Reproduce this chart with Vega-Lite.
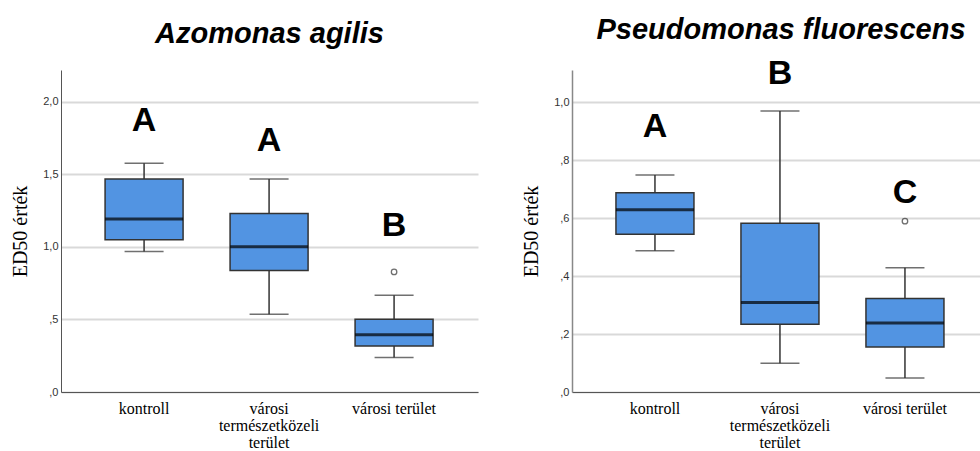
{
  "$schema": "https://vega.github.io/schema/vega-lite/v6.json",
  "background": "white",
  "padding": {"left": 10, "top": 15, "right": 0, "bottom": 0},
  "bounds": "flush",
  "spacing": 94,
  "config": {
    "view": {"stroke": null},
    "axis": {"labelFont": "Liberation Sans"},
    "title": {"font": "Liberation Sans", "fontWeight": "bold", "fontStyle": "italic", "color": "black", "anchor": "middle"}
  },
  "datasets": {
    "boxes": [
      {"panel": "A", "group": "kontroll", "lower": 0.968, "q1": 1.05, "median": 1.193, "q3": 1.469, "upper": 1.577},
      {"panel": "A", "group": "városi természetközeli terület", "lower": 0.536, "q1": 0.837, "median": 1.002, "q3": 1.23, "upper": 1.469},
      {"panel": "A", "group": "városi terület", "lower": 0.237, "q1": 0.317, "median": 0.395, "q3": 0.501, "upper": 0.667},
      {"panel": "P", "group": "kontroll", "lower": 0.488, "q1": 0.545, "median": 0.629, "q3": 0.688, "upper": 0.749},
      {"panel": "P", "group": "városi természetközeli terület", "lower": 0.099, "q1": 0.234, "median": 0.309, "q3": 0.583, "upper": 0.97},
      {"panel": "P", "group": "városi terület", "lower": 0.048, "q1": 0.155, "median": 0.238, "q3": 0.323, "upper": 0.429}
    ],
    "outliers": [
      {"panel": "A", "group": "városi terület", "value": 0.828},
      {"panel": "P", "group": "városi terület", "value": 0.59}
    ],
    "letters": [
      {"panel": "A", "group": "kontroll", "letter": "A", "pos": 1.80},
      {"panel": "A", "group": "városi természetközeli terület", "letter": "A", "pos": 1.664},
      {"panel": "A", "group": "városi terület", "letter": "B", "pos": 1.076},
      {"panel": "P", "group": "kontroll", "letter": "A", "pos": 0.881},
      {"panel": "P", "group": "városi természetközeli terület", "letter": "B", "pos": 1.065},
      {"panel": "P", "group": "városi terület", "letter": "C", "pos": 0.652}
    ]
  },
  "hconcat": [
    {
      "width": 417,
      "height": 322,
      "title": {"text": "Azomonas agilis", "fontSize": 29, "baseline": "alphabetic", "offset": -2},
      "encoding": {
        "x": {
          "field": "group", "type": "nominal", "sort": ["kontroll", "városi természetközeli terület", "városi terület"],
          "scale": {"paddingInner": 0, "paddingOuter": 0.168, "align": 0.49},
          "axis": {"title": null, "labelAngle": 0, "ticks": false, "domainColor": "#555555", "domainWidth": 1, "labelFont": "Liberation Serif", "labelFontSize": 16, "labelColor": "black", "labelPadding": 8, "labelLineHeight": 17, "labelBaseline": "top",
            "labelExpr": "datum.label == 'városi természetközeli terület' ? ['városi', 'természetközeli', 'terület'] : datum.label"}
        }
      },
      "layer": [
        {
          "data": {"name": "boxes"},
          "transform": [{"filter": "datum.panel == 'A'"}],
          "mark": {"type": "rule", "color": "#333333", "strokeWidth": 1.5},
          "encoding": {
            "y": {"field": "lower", "type": "quantitative", "scale": {"domain": [0, 2.22], "nice": false},
              "axis": {"title": "ED50  érték", "titleFont": "Liberation Serif", "titleFontSize": 20, "titleFontWeight": "normal", "titleColor": "black", "titlePadding": 12,
                "values": [0, 0.5, 1, 1.5, 2], "ticks": false, "labelPadding": 3, "labelFontSize": 11, "labelColor": "#333333",
                "labelExpr": "replace(replace(format(datum.value, '.1f'), '.', ','), '0,', ',')",
                "grid": true, "gridColor": "#d9d9d9", "gridWidth": 2, "domainColor": "#555555", "domainWidth": 1}},
            "y2": {"field": "upper"}
          }
        },
        {
          "data": {"name": "boxes"},
          "transform": [{"filter": "datum.panel == 'A'"}],
          "mark": {"type": "tick", "color": "#333333", "thickness": 1.5, "size": 39},
          "encoding": {"y": {"field": "upper", "type": "quantitative"}}
        },
        {
          "data": {"name": "boxes"},
          "transform": [{"filter": "datum.panel == 'A'"}],
          "mark": {"type": "tick", "color": "#333333", "thickness": 1.5, "size": 39},
          "encoding": {"y": {"field": "lower", "type": "quantitative"}}
        },
        {
          "data": {"name": "boxes"},
          "transform": [{"filter": "datum.panel == 'A'"}],
          "mark": {"type": "bar", "fill": "#5294e2", "stroke": "#333333", "strokeWidth": 1.5, "size": 78},
          "encoding": {"y": {"field": "q1", "type": "quantitative"}, "y2": {"field": "q3"}}
        },
        {
          "data": {"name": "boxes"},
          "transform": [{"filter": "datum.panel == 'A'"}],
          "mark": {"type": "tick", "color": "black", "thickness": 3, "size": 78},
          "encoding": {"y": {"field": "median", "type": "quantitative"}}
        },
        {
          "data": {"name": "outliers"},
          "transform": [{"filter": "datum.panel == 'A'"}],
          "mark": {"type": "point", "shape": "circle", "filled": false, "stroke": "#333333", "strokeWidth": 1.3, "size": 30},
          "encoding": {"y": {"field": "value", "type": "quantitative"}}
        },
        {
          "data": {"name": "letters"},
          "transform": [{"filter": "datum.panel == 'A'"}],
          "mark": {"type": "text", "font": "Liberation Sans", "fontWeight": "bold", "fontSize": 34, "baseline": "alphabetic", "color": "black"},
          "encoding": {"y": {"field": "pos", "type": "quantitative"}, "text": {"field": "letter"}}
        }
      ]
    },
    {
      "width": 408,
      "height": 322,
      "title": {"text": "Pseudomonas fluorescens", "fontSize": 29, "baseline": "alphabetic", "offset": -11, "dx": 5},
      "encoding": {
        "x": {
          "field": "group", "type": "nominal", "sort": ["kontroll", "városi természetközeli terület", "városi terület"],
          "scale": {"paddingInner": 0, "paddingOuter": 0.132, "align": 0.62},
          "axis": {"title": null, "labelAngle": 0, "ticks": false, "domainColor": "#555555", "domainWidth": 1, "labelFont": "Liberation Serif", "labelFontSize": 16, "labelColor": "black", "labelPadding": 8, "labelLineHeight": 17, "labelBaseline": "top",
            "labelExpr": "datum.label == 'városi természetközeli terület' ? ['városi', 'természetközeli', 'terület'] : datum.label"}
        }
      },
      "layer": [
        {
          "data": {"name": "boxes"},
          "transform": [{"filter": "datum.panel == 'P'"}],
          "mark": {"type": "rule", "color": "#333333", "strokeWidth": 1.5},
          "encoding": {
            "y": {"field": "lower", "type": "quantitative", "scale": {"domain": [0, 1.112], "nice": false},
              "axis": {"title": "ED50  érték", "titleFont": "Liberation Serif", "titleFontSize": 20, "titleFontWeight": "normal", "titleColor": "black", "titlePadding": 12,
                "values": [0, 0.2, 0.4, 0.6, 0.8, 1], "ticks": false, "labelPadding": 3, "labelFontSize": 11, "labelColor": "#333333",
                "labelExpr": "replace(replace(format(datum.value, '.1f'), '.', ','), '0,', ',')",
                "grid": true, "gridColor": "#d9d9d9", "gridWidth": 2, "domainColor": "#888888", "domainWidth": 1.5}},
            "y2": {"field": "upper"}
          }
        },
        {
          "data": {"name": "boxes"},
          "transform": [{"filter": "datum.panel == 'P'"}],
          "mark": {"type": "tick", "color": "#333333", "thickness": 1.5, "size": 39},
          "encoding": {"y": {"field": "upper", "type": "quantitative"}}
        },
        {
          "data": {"name": "boxes"},
          "transform": [{"filter": "datum.panel == 'P'"}],
          "mark": {"type": "tick", "color": "#333333", "thickness": 1.5, "size": 39},
          "encoding": {"y": {"field": "lower", "type": "quantitative"}}
        },
        {
          "data": {"name": "boxes"},
          "transform": [{"filter": "datum.panel == 'P'"}],
          "mark": {"type": "bar", "fill": "#5294e2", "stroke": "#333333", "strokeWidth": 1.5, "size": 78},
          "encoding": {"y": {"field": "q1", "type": "quantitative"}, "y2": {"field": "q3"}}
        },
        {
          "data": {"name": "boxes"},
          "transform": [{"filter": "datum.panel == 'P'"}],
          "mark": {"type": "tick", "color": "black", "thickness": 3, "size": 78},
          "encoding": {"y": {"field": "median", "type": "quantitative"}}
        },
        {
          "data": {"name": "outliers"},
          "transform": [{"filter": "datum.panel == 'P'"}],
          "mark": {"type": "point", "shape": "circle", "filled": false, "stroke": "#333333", "strokeWidth": 1.3, "size": 30},
          "encoding": {"y": {"field": "value", "type": "quantitative"}}
        },
        {
          "data": {"name": "letters"},
          "transform": [{"filter": "datum.panel == 'P'"}],
          "mark": {"type": "text", "font": "Liberation Sans", "fontWeight": "bold", "fontSize": 34, "baseline": "alphabetic", "color": "black"},
          "encoding": {"y": {"field": "pos", "type": "quantitative"}, "text": {"field": "letter"}}
        }
      ]
    }
  ]
}
